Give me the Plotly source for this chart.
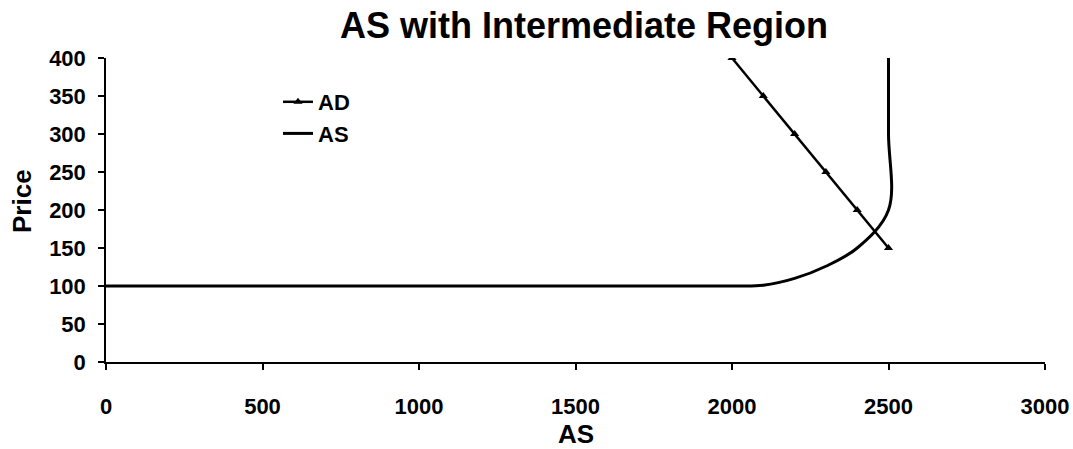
import plotly.graph_objects as go

# Aggregate demand schedule
ad_q = [2000, 2100, 2200, 2300, 2400, 2500]
ad_p = [400, 350, 300, 250, 200, 150]

# Aggregate supply with flat, intermediate and vertical regions
as_q = [0, 500, 1000, 1500, 2000, 2100, 2200, 2300, 2400, 2500, 2500, 2500]
as_p = [100, 100, 100, 100, 100, 101, 110, 126, 150, 200, 300, 400]

x_ticks = [0, 500, 1000, 1500, 2000, 2500, 3000]
y_ticks = [0, 50, 100, 150, 200, 250, 300, 350, 400]

FONT = "Liberation Sans, Arial, sans-serif"
AXIS_TITLE_FONT = dict(size=26, family=FONT, color="black", weight="bold")

fig = go.Figure()
fig.add_trace(go.Scatter(
    x=ad_q, y=ad_p, name="AD", mode="lines+markers",
    line=dict(color="black", width=2.5),
    marker=dict(symbol="triangle-up", size=8, color="black"),
))
fig.add_trace(go.Scatter(
    x=as_q, y=as_p, name="AS", mode="lines",
    line=dict(color="black", width=3, shape="spline", smoothing=1),
))

# Axis titles placed as paper-anchored annotations
fig.add_annotation(text="AS", xref="paper", yref="paper",
                   x=0.5, y=(362 - 434) / 304, xanchor="center", yanchor="middle",
                   showarrow=False, font=AXIS_TITLE_FONT)
fig.add_annotation(text="Price", xref="paper", yref="paper",
                   x=(22 - 106) / 939, y=(362 - 201) / 304,
                   xanchor="center", yanchor="middle", textangle=-90,
                   showarrow=False, font=AXIS_TITLE_FONT)

fig.update_layout(
    width=1073, height=449,
    margin=dict(l=106, r=28, t=58, b=87),
    paper_bgcolor="white", plot_bgcolor="white",
    font=dict(family=FONT, color="black", weight="bold"),
    title=dict(
        text="AS with Intermediate Region",
        font=dict(size=36, family=FONT, color="black", weight="bold"),
        x=584 / 1073, xanchor="center", xref="container",
        y=1 - 25 / 449, yanchor="middle", yref="container",
    ),
    showlegend=True,
    legend=dict(
        x=(278 - 106) / 939, xanchor="left",
        y=1 - (81 - 58) / 304, yanchor="top",
        font=dict(size=22, family=FONT, color="black", weight="bold"),
        bgcolor="rgba(0,0,0,0)",
        itemwidth=30,
    ),
    xaxis=dict(
        range=[0, 3000], tickvals=x_ticks, automargin=False,
        showline=True, linecolor="black", linewidth=1.5,
        ticks="outside", ticklen=6, tickcolor="black", tickwidth=1.5,
        ticklabelstandoff=18,
        showgrid=False, zeroline=False,
        tickfont=dict(size=22, family=FONT, color="black", weight="bold"),
    ),
    yaxis=dict(
        range=[0, 400], tickvals=y_ticks, automargin=False,
        showline=True, linecolor="black", linewidth=1.5,
        ticks="outside", ticklen=6, tickcolor="black", tickwidth=1.5,
        ticklabelstandoff=8,
        showgrid=False, zeroline=False,
        tickfont=dict(size=22, family=FONT, color="black", weight="bold"),
    ),
)

fig.write_html("out.html")
